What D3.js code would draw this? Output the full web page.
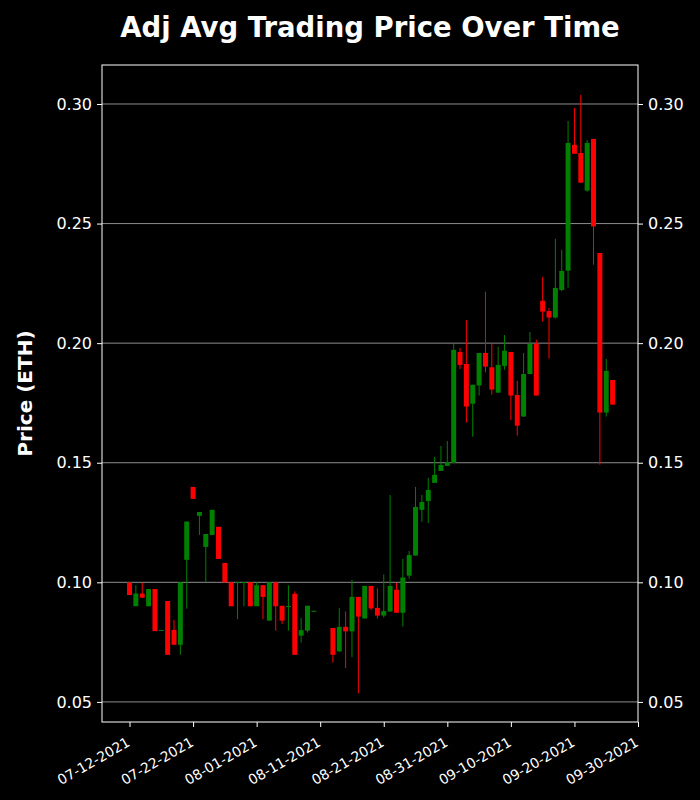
<!DOCTYPE html>
<html>
<head>
<meta charset="utf-8">
<script src="https://cdn.jsdelivr.net/npm/d3@7"></script>
<style>
  html, body { margin: 0; padding: 0; background: #000; }
  svg { display: block; font-family: "DejaVu Sans", sans-serif; }
</style>
</head>
<body>
<svg id="chart" width="700" height="800"></svg>
<script>
// ---- Data ----
const dates = ["2021-07-12","2021-07-13","2021-07-14","2021-07-15","2021-07-16","2021-07-17","2021-07-18","2021-07-19","2021-07-20","2021-07-21",
  "2021-07-22","2021-07-23","2021-07-24","2021-07-25","2021-07-26","2021-07-27","2021-07-28","2021-07-29","2021-07-30","2021-07-31",
  "2021-08-01","2021-08-02","2021-08-03","2021-08-04","2021-08-05","2021-08-06","2021-08-07","2021-08-08","2021-08-09","2021-08-10",
  "2021-08-13","2021-08-14","2021-08-15","2021-08-16","2021-08-17","2021-08-18","2021-08-19","2021-08-20","2021-08-21","2021-08-22",
  "2021-08-23","2021-08-24","2021-08-25","2021-08-26","2021-08-27","2021-08-28","2021-08-29","2021-08-30","2021-08-31","2021-09-01",
  "2021-09-02","2021-09-03","2021-09-04","2021-09-05","2021-09-06","2021-09-07","2021-09-08","2021-09-09","2021-09-10","2021-09-11",
  "2021-09-12","2021-09-13","2021-09-14","2021-09-15","2021-09-16","2021-09-17","2021-09-18","2021-09-19","2021-09-20","2021-09-21",
  "2021-09-22","2021-09-23","2021-09-24","2021-09-25","2021-09-26"];
const opens = [0.1000,0.0900,0.0953,0.0900,0.0972,0.0799,0.0922,0.0801,0.0739,0.1094,
  0.1399,0.1278,0.1148,0.1198,0.1232,0.1081,0.1000,0.0999,0.0999,0.1000,
  0.0900,0.0988,0.0840,0.1000,0.0902,0.0899,0.0952,0.0777,0.0798,0.0879,
  0.0809,0.0711,0.0814,0.0795,0.0939,0.0849,0.0985,0.0893,0.0861,0.0878,
  0.0969,0.0873,0.1028,0.1112,0.1303,0.1340,0.1416,0.1466,0.1487,0.1499,
  0.1963,0.1913,0.1747,0.1823,0.1959,0.1899,0.1793,0.1905,0.1963,0.1783,
  0.1693,0.1871,0.1997,0.2177,0.2134,0.2107,0.2222,0.2303,0.2829,0.2795,
  0.2638,0.2854,0.2377,0.1710,0.1846];
const highs = [0.1000,0.0988,0.0999,0.0972,0.0972,0.0801,0.0922,0.0843,0.1000,0.1254,
  0.1399,0.1294,0.1202,0.1303,0.1232,0.1081,0.1000,0.1002,0.1001,0.1000,
  0.1000,0.0988,0.1000,0.1000,0.0902,0.0988,0.0962,0.0851,0.0902,0.0881,
  0.0809,0.0892,0.0878,0.1010,0.0939,0.0985,0.0985,0.0975,0.1033,0.1365,
  0.0997,0.1098,0.1131,0.1399,0.1365,0.1436,0.1524,0.1570,0.1591,0.1997,
  0.1980,0.2097,0.1826,0.1959,0.2215,0.1997,0.1985,0.2034,0.1963,0.1842,
  0.1959,0.2047,0.2014,0.2277,0.2147,0.2436,0.2390,0.2929,0.2983,0.3038,
  0.2850,0.2854,0.2377,0.1934,0.1846];
const lows = [0.0947,0.0900,0.0936,0.0900,0.0796,0.0799,0.0697,0.0739,0.0697,0.0890,
  0.1349,0.1198,0.1000,0.1198,0.1098,0.1000,0.0900,0.0846,0.0900,0.0900,
  0.0900,0.0846,0.0840,0.0798,0.0826,0.0798,0.0697,0.0748,0.0790,0.0879,
  0.0664,0.0711,0.0641,0.0688,0.0536,0.0849,0.0883,0.0849,0.0853,0.0878,
  0.0873,0.0815,0.1015,0.1112,0.1253,0.1248,0.1416,0.1466,0.1487,0.1499,
  0.1892,0.1668,0.1609,0.1781,0.1878,0.1785,0.1793,0.1889,0.1679,0.1613,
  0.1693,0.1871,0.1781,0.2090,0.1935,0.2103,0.2218,0.2232,0.2792,0.2671,
  0.2633,0.2328,0.1492,0.1693,0.1743];
const closes = [0.0947,0.0953,0.0936,0.0972,0.0796,0.0801,0.0697,0.0739,0.1000,0.1254,
  0.1349,0.1294,0.1202,0.1303,0.1098,0.1000,0.0900,0.1001,0.1001,0.0900,
  0.0988,0.0939,0.1000,0.0900,0.0840,0.0901,0.0697,0.0800,0.0902,0.0881,
  0.0697,0.0814,0.0795,0.0939,0.0857,0.0985,0.0891,0.0861,0.0880,0.0985,
  0.0873,0.1020,0.1114,0.1315,0.1336,0.1386,0.1449,0.1491,0.1503,0.1972,
  0.1909,0.1735,0.1826,0.1959,0.1902,0.1806,0.1909,0.1968,0.1781,0.1655,
  0.1871,0.1997,0.1781,0.2132,0.2107,0.2231,0.2302,0.2837,0.2792,0.2671,
  0.2837,0.2488,0.1710,0.1884,0.1743];
const xTickLabels = ["07-12-2021","07-22-2021","08-01-2021","08-11-2021","08-21-2021","08-31-2021","09-10-2021","09-20-2021","09-30-2021"];
const yTicks = [0.05, 0.10, 0.15, 0.20, 0.25, 0.30];
const titleText = "Adj Avg Trading Price Over Time";
const yLabelText = "Price (ETH)";

// ---- Layout ----
const svg = d3.select("#chart");
const W = 700, H = 800;
const L = 102, R = 638, T = 65, B = 722;
const parse = d3.utcParse("%Y-%m-%d");
const tickParse = d3.utcParse("%m-%d-%Y");
const DAY = 864e5;

svg.append("rect").attr("width", W).attr("height", H).attr("fill", "#000");

const x0 = new Date(parse("2021-07-12").getTime() - 4.33 * DAY);
const x1 = parse("2021-09-30");
const x = d3.scaleUtc().domain([x0, x1]).range([L, R]);
const y = d3.scaleLinear().domain([0.0416, 0.3163]).range([B, T]);

const data = dates.map((d, i) => ({
  date: parse(d), open: opens[i], high: highs[i], low: lows[i], close: closes[i]
}));

// Gridlines
svg.append("g").selectAll("line").data(yTicks).join("line")
  .attr("x1", L).attr("x2", R)
  .attr("y1", d => y(d)).attr("y2", d => y(d))
  .attr("stroke", "#8c8c8c").attr("stroke-width", 1);

// Candles
const pxPerDay = x(new Date(x0.getTime() + DAY)) - x(x0);
const bodyW = pxPerDay * 0.78;
const col = d => d.close >= d.open ? "#008000" : "#ff0000";
const g = svg.append("g");
g.selectAll("line.wick").data(data).join("line")
  .attr("class", "wick")
  .attr("x1", d => x(d.date)).attr("x2", d => x(d.date))
  .attr("y1", d => y(d.high)).attr("y2", d => y(d.low))
  .attr("stroke", col).attr("stroke-width", 1);
g.selectAll("rect.body").data(data).join("rect")
  .attr("class", "body")
  .attr("x", d => x(d.date) - bodyW / 2)
  .attr("width", bodyW)
  .attr("y", d => y(Math.max(d.open, d.close)))
  .attr("height", d => Math.max(1, Math.abs(y(d.open) - y(d.close))))
  .attr("fill", col);

// Axes
const xAxis = d3.axisBottom(x)
  .tickValues(xTickLabels.map(tickParse))
  .tickFormat(d3.utcFormat("%m-%d-%Y"))
  .tickSize(5).tickPadding(4);
const gx = svg.append("g").attr("transform", `translate(0,${B})`).call(xAxis);
gx.select(".domain").remove();
gx.selectAll(".tick line").attr("stroke", "#fff");
gx.selectAll(".tick text")
  .attr("fill", "#fff").attr("font-size", 13.9)
  .attr("font-family", "DejaVu Sans")
  .attr("text-anchor", "end")
  .attr("x", 0).attr("y", 0).attr("dx", 0).attr("dy", 0)
  .attr("transform", "translate(1,23) rotate(-30)");

const yAxisL = d3.axisLeft(y).tickValues(yTicks).tickFormat(d3.format(".2f")).tickSize(5).tickPadding(5);
const gyl = svg.append("g").attr("transform", `translate(${L},0)`).call(yAxisL);
const yAxisR = d3.axisRight(y).tickValues(yTicks).tickFormat(d3.format(".2f")).tickSize(5).tickPadding(5);
const gyr = svg.append("g").attr("transform", `translate(${R},0)`).call(yAxisR);
[gyl, gyr].forEach(gg => {
  gg.select(".domain").remove();
  gg.selectAll(".tick line").attr("stroke", "#fff");
  gg.selectAll(".tick text").attr("fill", "#fff").attr("font-size", 16).attr("font-family", "DejaVu Sans");
});

// Spines
svg.append("rect").attr("x", L).attr("y", T).attr("width", R - L).attr("height", B - T)
  .attr("fill", "none").attr("stroke", "#fff").attr("stroke-width", 1);

// Title
svg.append("text").attr("x", (L + R) / 2).attr("y", 37)
  .attr("text-anchor", "middle").attr("fill", "#fff")
  .attr("font-size", 27.5).attr("font-weight", "bold").text(titleText);

// Y label
svg.append("text")
  .attr("transform", `translate(32,${(T + B) / 2}) rotate(-90)`)
  .attr("text-anchor", "middle").attr("fill", "#fff")
  .attr("font-size", 20).attr("font-weight", "bold").text(yLabelText);
</script>
</body>
</html>
